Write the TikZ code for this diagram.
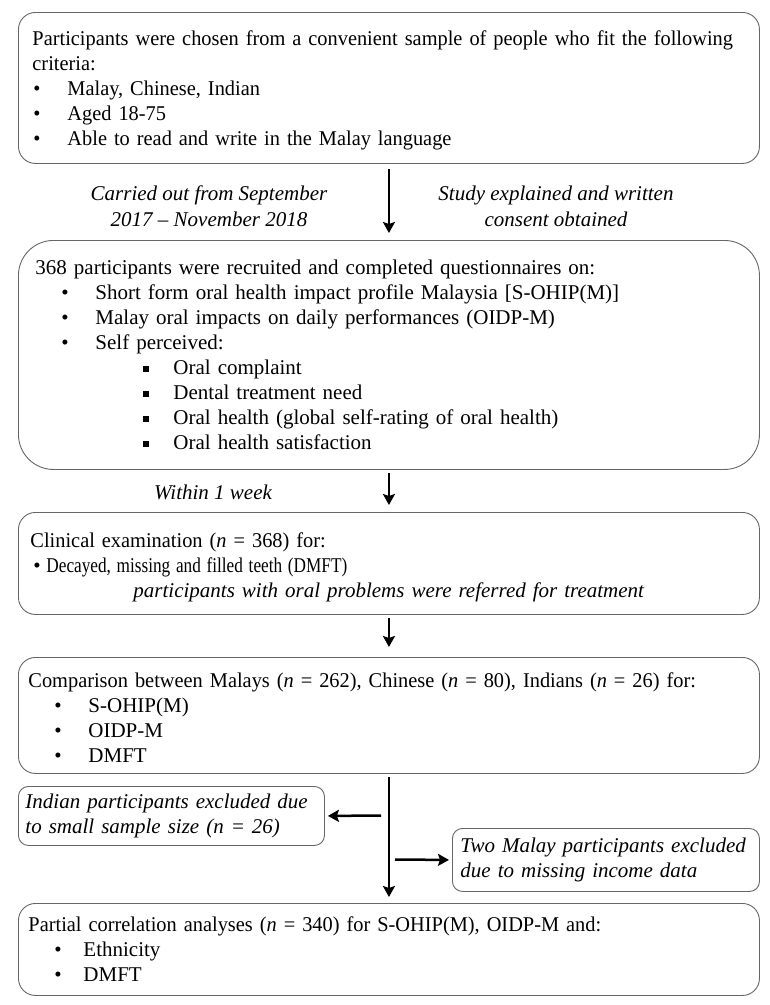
\documentclass[tikz,border=0pt]{standalone}
\usepackage{fontspec}
\usepackage{graphicx}
\setmainfont{Liberation Serif}
\newfontfamily\cnd{Liberation Serif}[FakeStretch=0.97]
\usetikzlibrary{arrows.meta,calc}

\newcommand{\bul}[2]{\hspace*{#1}\makebox[#2][l]{\textbullet}}
\newcommand{\sqb}[2]{\hspace*{#1}\makebox[#2][l]{\rule[3pt]{6pt}{6pt}}}

\begin{document}
\begin{tikzpicture}[x=1pt,y=1pt,
    box/.style={draw=black!60, line width=0.9pt, rounded corners=#1, anchor=north west,
      align=left, inner ysep=0pt, font=\fontsize{21}{25}\selectfont},
    box/.default=17pt,
    lab/.style={align=center, font=\fontsize{21}{26}\selectfont\itshape},
    arr/.style={line width=2.5pt, -{Stealth[length=11pt,width=12pt,inset=2pt]}}]
    \useasboundingbox (0,0) rectangle (770,-1005);
    \node[box, inner xsep=14pt, minimum width=741pt, minimum height=151pt, text width=713pt, font=\fontsize{21}{25}\cnd] (crit) at (18,-12)
      {\rule{0pt}{20pt}Participants were chosen from a convenient sample of people who fit the following\\
       criteria:\\
       \bul{1pt}{34pt}Malay, Chinese, Indian\\
       \bul{1pt}{34pt}Aged 18-75\\
       \bul{1pt}{34pt}Able to read and write in the Malay language};
    \node[box=35pt, inner xsep=12pt, minimum width=741pt, minimum height=229pt, text width=717pt] (recr) at (18,-240)
      {\hspace*{5pt}368 participants were recruited and completed questionnaires on:\\
       \bul{31pt}{34pt}Short form oral health impact profile Malaysia [S-OHIP(M)]\\
       \bul{31pt}{34pt}Malay oral impacts on daily performances (OIDP-M)\\
       \bul{31pt}{34pt}Self perceived:\\
       \sqb{113pt}{30pt}Oral complaint\\
       \sqb{113pt}{30pt}Dental treatment need\\
       \sqb{113pt}{30pt}Oral health (global self-rating of oral health)\\
       \sqb{113pt}{30pt}Oral health satisfaction};
    \node[box, inner xsep=12pt, minimum width=741pt, minimum height=102pt, text width=717pt] (clin) at (18,-512)
      {\rule{0pt}{22.5pt}{\cnd Clinical examination (\textit{n} = 368) for:}\\
       \bul{3pt}{13pt}\scalebox{0.82}[1]{Decayed, missing and filled teeth (DMFT)}\\
       \hspace*{103pt}\textit{participants with oral problems were referred for treatment}};
    \node[box, inner xsep=10pt, minimum width=741pt, minimum height=116pt, text width=721pt] (comp) at (18,-657)
      {\rule{0pt}{19pt}{\cnd Comparison between Malays (\textit{n} = 262), Chinese (\textit{n} = 80), Indians (\textit{n} = 26) for:}\\
       \bul{26pt}{34pt}S-OHIP(M)\\
       \bul{26pt}{34pt}OIDP-M\\
       \bul{26pt}{34pt}DMFT};
    \node[box=10pt, inner xsep=7pt, minimum width=306pt, minimum height=59pt, text width=292pt, font=\fontsize{21}{25}\selectfont\itshape] (indn) at (18,-786)
      {Indian participants excluded due\\to small sample size (\textit{n} = 26)};
    \node[box=10pt, inner xsep=8pt, minimum width=307pt, minimum height=63pt, text width=291pt, font=\fontsize{21}{25}\selectfont\itshape] (twom) at (452,-828)
      {Two Malay participants excluded\\due to missing income data};
    \node[box, inner xsep=10pt, minimum width=741pt, minimum height=92pt, text width=721pt] (corr) at (18,-903)
      {{\cnd Partial correlation analyses (\textit{n} = 340) for S-OHIP(M), OIDP-M and:}\\
       \bul{26pt}{29pt}Ethnicity\\
       \bul{26pt}{29pt}DMFT};
    \node[lab] (when) at (209,-206) {Carried out from September\\2017 -- November 2018};
    \node[lab] (cons) at (556,-206) {Study explained and written\\consent obtained};
    \node[lab] (week) at (213,-492) {Within 1 week};
    \draw[arr, shorten <=5pt, shorten >=7pt] (crit.south) -- (recr.north);
    \draw[arr, shorten <=3pt, shorten >=7pt] (recr.south) -- (clin.north);
    \draw[arr, shorten <=3pt, shorten >=10pt] (clin.south) -- (comp.north);
    \draw[arr, shorten <=3pt, shorten >=6pt] (comp.south) -- (corr.north);
    \coordinate (sp1) at (381,-815.5);
    \coordinate (sp2) at (395,-859.5);
    \draw[arr, shorten >=3pt] (sp1) -- (indn.east);
    \draw[arr, shorten >=3pt] (sp2) -- (twom.west);
\end{tikzpicture}
\end{document}
